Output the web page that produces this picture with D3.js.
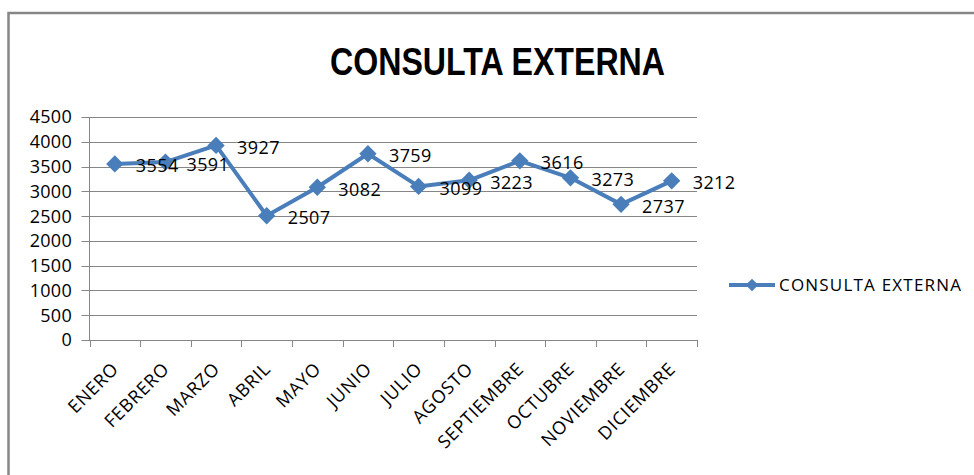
<!DOCTYPE html>
<html>
<head>
<meta charset="utf-8">
<script src="https://cdn.jsdelivr.net/npm/d3@7"></script>
<style>
  body { margin:0; background:#fff; }
  text { font-family:"Open Sans", "Liberation Sans", sans-serif; fill:#000; }
</style>
</head>
<body>
<div id="chart"></div>
<script>
// data
var meses = ["ENERO","FEBRERO","MARZO","ABRIL","MAYO","JUNIO","JULIO","AGOSTO","SEPTIEMBRE","OCTUBRE","NOVIEMBRE","DICIEMBRE"];
var consultas = [3554,3591,3927,2507,3082,3759,3099,3223,3616,3273,2737,3212];
var yTicks = [0,500,1000,1500,2000,2500,3000,3500,4000,4500];
var titulo = "CONSULTA EXTERNA";
var serie = "CONSULTA EXTERNA";

var W = 974, H = 475;
var azul = "#4a7ebb", gris = "#868686";

var svg = d3.select("#chart").append("svg")
  .attr("width", W).attr("height", H);

// outer frame, cut by the right and bottom edges
svg.append("rect")
  .attr("x", 8.5).attr("y", 13)
  .attr("width", W + 20).attr("height", H + 20)
  .attr("fill", "none").attr("stroke", gris).attr("stroke-width", 2.5);

// title
svg.append("text")
  .attr("x", 330).attr("y", 75)
  .attr("textLength", 335).attr("lengthAdjust", "spacingAndGlyphs")
  .attr("style", "font-family:'Liberation Sans Narrow','Liberation Sans',sans-serif;font-weight:bold;font-size:39px")
  .text(titulo);

var pLeft = 89.5, pRight = 697, pTop = 117, pBottom = 340;

var x = d3.scaleBand().domain(meses).range([pLeft, pRight]);
var y = d3.scaleLinear().domain([0, 4500]).range([pBottom, pTop]);

// gridlines (they stick out left of the axis like ticks)
svg.append("g").selectAll("line")
  .data(yTicks)
  .join("line")
  .attr("x1", pLeft - 8).attr("x2", pRight)
  .attr("y1", function(d){ return Math.round(y(d)) + 0.5; })
  .attr("y2", function(d){ return Math.round(y(d)) + 0.5; })
  .attr("stroke", gris).attr("stroke-width", 1);

// y axis line
svg.append("line")
  .attr("x1", pLeft).attr("x2", pLeft)
  .attr("y1", y(4500)).attr("y2", pBottom)
  .attr("stroke", gris);

// y labels
svg.append("g").selectAll("text")
  .data(yTicks)
  .join("text")
  .attr("x", 72).attr("y", function(d){ return y(d); })
  .attr("dy", "0.36em")
  .attr("text-anchor", "end")
  .attr("style", "font-size:18px;letter-spacing:0.3px")
  .text(function(d){ return d; });

// x ticks at band edges
var bordes = meses.map(function(m){ return x(m); }).concat([pRight]);
svg.append("g").selectAll("line")
  .data(bordes)
  .join("line")
  .attr("x1", function(d){ return Math.round(d) + 0.5; })
  .attr("x2", function(d){ return Math.round(d) + 0.5; })
  .attr("y1", pBottom).attr("y2", pBottom + 7)
  .attr("stroke", gris);

// x labels, rotated
svg.append("g").selectAll("text")
  .data(meses)
  .join("text")
  .attr("transform", function(d){ return "translate(" + (x(d) + x.bandwidth()/2 + 5) + "," + 370 + ") rotate(-45)"; })
  .attr("text-anchor", "end")
  .attr("style", "font-size:18px;letter-spacing:0.8px")
  .text(function(d){ return d; });

var cx = function(d, i){ return x(meses[i]) + x.bandwidth()/2; };

// line
var linea = d3.line()
  .x(function(d, i){ return cx(d, i); })
  .y(function(d){ return y(d); });

svg.append("path")
  .datum(consultas)
  .attr("d", linea)
  .attr("fill", "none")
  .attr("stroke", azul)
  .attr("stroke-width", 4)
  .attr("stroke-linejoin", "round");

// diamond markers
var diamante = d3.symbol().type(d3.symbolSquare).size(150);
svg.append("g").selectAll("path")
  .data(consultas)
  .join("path")
  .attr("d", diamante)
  .attr("transform", function(d, i){ return "translate(" + cx(d, i) + "," + y(d) + ") rotate(45)"; })
  .attr("fill", azul);

// value labels to the right
svg.append("g").selectAll("text")
  .data(consultas)
  .join("text")
  .attr("x", function(d, i){ return cx(d, i) + 21; })
  .attr("y", function(d){ return y(d) + 2; })
  .attr("dy", "0.36em")
  .attr("style", "font-size:18px;letter-spacing:0.4px")
  .text(function(d){ return d; });

// legend
var ley = svg.append("g").attr("transform", "translate(729,285)");
ley.append("line")
  .attr("x1", 0).attr("x2", 46)
  .attr("stroke", azul).attr("stroke-width", 4);
ley.append("path")
  .attr("d", d3.symbol().type(d3.symbolSquare).size(80))
  .attr("transform", "translate(23,0) rotate(45)")
  .attr("fill", azul);
ley.append("text")
  .attr("x", 50).attr("dy", "0.36em")
  .attr("style", "font-size:17px;letter-spacing:1.2px")
  .text(serie);
</script>
</body>
</html>
